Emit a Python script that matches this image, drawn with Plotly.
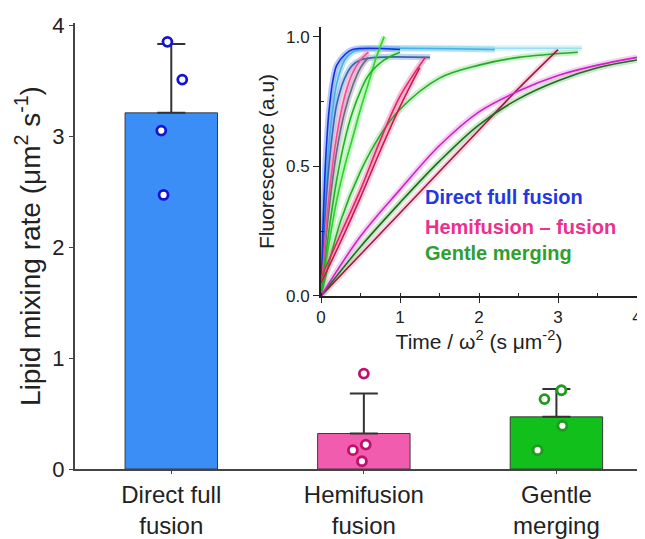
import plotly.graph_objects as go

# ---------------- main bar chart data ----------------
categories = ["Direct full<br>fusion", "Hemifusion<br>fusion", "Gentle<br>merging"]
bar_means = [3.21, 0.32, 0.47]
bar_err_plus = [0.62, 0.36, 0.25]
bar_colors = ["#3a8ef5", "#f25cae", "#11c01b"]
dot_colors = ["#1515d0", "#c0106e", "#1f9a1f"]

pts_direct = [3.85, 3.51, 3.05, 2.47]
pts_direct_jitter = [-0.02, 0.057, -0.052, -0.04]
pts_hemi = [0.86, 0.22, 0.17, 0.07]
pts_hemi_jitter = [0.0, 0.01, -0.057, -0.01]
pts_gentle = [0.71, 0.63, 0.39, 0.17]
pts_gentle_jitter = [0.026, -0.062, 0.031, -0.098]

# ---------------- inset curves ----------------
blue_fast_x = [0, 0.025, 0.05, 0.075, 0.1, 0.15, 0.2, 0.3, 0.4, 1.0]
blue_fast_y = [0, 0.27, 0.47, 0.61, 0.71, 0.83, 0.89, 0.93, 0.95, 0.95]
steel_x = [0, 0.05, 0.1, 0.15, 0.2, 0.3, 0.4, 0.5, 0.7, 1.38]
steel_y = [0, 0.30, 0.50, 0.64, 0.74, 0.84, 0.89, 0.91, 0.92, 0.92]
cyan_x = [0, 0.05, 0.1, 0.2, 0.3, 0.4, 0.5, 2.2]
cyan_y = [0, 0.35, 0.58, 0.82, 0.91, 0.94, 0.95, 0.95]
pale_x = [0.5, 1.0, 2.0, 3.3]
pale_y = [0.955, 0.955, 0.955, 0.955]
pink_fast_x = [0, 0.1, 0.2, 0.3, 0.4, 0.5, 0.6]
pink_fast_y = [0, 0.38, 0.62, 0.77, 0.86, 0.91, 0.94]
gray_fast_x = [0, 0.1, 0.2, 0.3, 0.4, 0.5, 0.6]
gray_fast_y = [0, 0.33, 0.56, 0.71, 0.81, 0.88, 0.92]
green_fast_x = [0, 0.1, 0.2, 0.3, 0.4, 0.5, 0.6, 0.7, 0.8]
green_fast_y = [0, 0.20, 0.37, 0.50, 0.61, 0.72, 0.82, 0.92, 1.0]
green_fit_x = [0, 0.1, 0.2, 0.3, 0.4, 0.5, 0.6, 0.8, 1.0]
green_fit_y = [0, 0.25, 0.45, 0.60, 0.71, 0.79, 0.85, 0.91, 0.94]
red_mid_x = [0, 0.25, 0.5, 0.75, 1.0, 1.32]
red_mid_y = [0.07, 0.24, 0.41, 0.60, 0.77, 0.92]
red_mid2_x = [0, 0.25, 0.5, 0.75, 1.0, 1.25]
red_mid2_y = [0.05, 0.21, 0.38, 0.56, 0.73, 0.88]
green_mid_x = [0, 0.25, 0.5, 0.75, 1.0, 1.5, 2.0, 2.5, 3.25]
green_mid_y = [0, 0.29, 0.48, 0.62, 0.72, 0.84, 0.89, 0.92, 0.94]
magenta_slow_x = [0, 0.5, 1, 1.5, 2, 2.5, 3, 3.5, 4]
magenta_slow_y = [0, 0.23, 0.41, 0.58, 0.71, 0.79, 0.85, 0.89, 0.92]
dkgreen_slow_x = [0, 0.5, 1, 1.5, 2, 2.5, 3, 3.5, 4]
dkgreen_slow_y = [0, 0.19, 0.36, 0.52, 0.66, 0.76, 0.83, 0.88, 0.91]
dkred_slow_x = [0, 0.5, 1, 1.5, 2, 2.5, 3]
dkred_slow_y = [0, 0.16, 0.32, 0.48, 0.64, 0.80, 0.95]

legend_labels = ["Direct full fusion", "Hemifusion \u2013 fusion", "Gentle merging"]
legend_colors = ["#2438e0", "#ee2f8e", "#2fa02f"]
legend_y = [0.382, 0.266, 0.166]

FONT = "Arial, 'Liberation Sans', sans-serif"

fig = go.Figure()

# bars
xs = list(range(len(categories)))
fig.add_trace(go.Bar(
    x=xs, y=bar_means, width=0.48,
    marker=dict(color=bar_colors, line=dict(color="#3a3a3a", width=1)),
    error_y=dict(type="data", symmetric=False, array=bar_err_plus,
                 arrayminus=[0] * len(bar_means), color="#333333",
                 thickness=2, width=14),
    showlegend=False, xaxis="x", yaxis="y"))

for i, (vals, jit) in enumerate([(pts_direct, pts_direct_jitter),
                                 (pts_hemi, pts_hemi_jitter),
                                 (pts_gentle, pts_gentle_jitter)]):
    fig.add_trace(go.Scatter(
        x=[i + j for j in jit], y=vals, mode="markers",
        marker=dict(symbol="circle", size=9, color="white",
                    line=dict(color=dot_colors[i], width=2.8)),
        showlegend=False, xaxis="x", yaxis="y"))

# inset: translucent "data" bands then fit lines
curves = [
    (pale_x, pale_y, "#b8ecf8", "#9adcf0"),
    (cyan_x, cyan_y, "#7fd0f0", "#4aaee8"),
    (steel_x, steel_y, "#8fb0e0", "#3b64b8"),
    (blue_fast_x, blue_fast_y, "#7f9cf8", "#1030e0"),
    (gray_fast_x, gray_fast_y, "#b0b0c8", "#6a6a80"),
    (pink_fast_x, pink_fast_y, "#f8a0c8", "#f0508f"),
    (green_fast_x, green_fast_y, "#90f090", "#30d030"),
    (green_fit_x, green_fit_y, "#a8f0a8", "#20b020"),
    (green_mid_x, green_mid_y, "#a0e8a0", "#2aa82a"),
    (red_mid2_x, red_mid2_y, "#f8a8c0", "#c81850"),
    (red_mid_x, red_mid_y, "#f590b8", "#e8206a"),
    (dkred_slow_x, dkred_slow_y, "#f4b0c8", "#9a1a40"),
    (dkgreen_slow_x, dkgreen_slow_y, "#a0d8a0", "#1f6a1f"),
    (magenta_slow_x, magenta_slow_y, "#f0a8e8", "#d020c8"),
]
for cx, cy, band, line in curves:
    fig.add_trace(go.Scatter(x=cx, y=cy, mode="lines",
                             line=dict(color=band, width=6, shape="spline"),
                             opacity=0.55, showlegend=False,
                             xaxis="x2", yaxis="y2", hoverinfo="skip"))
for cx, cy, band, line in curves:
    fig.add_trace(go.Scatter(x=cx, y=cy, mode="lines",
                             line=dict(color=line, width=1.6, shape="spline"),
                             showlegend=False, xaxis="x2", yaxis="y2"))

for lab, col, ly in zip(legend_labels, legend_colors, legend_y):
    fig.add_annotation(x=1.29, y=ly, xref="x2", yref="y2", text="<b>%s</b>" % lab,
                       showarrow=False, xanchor="left", yanchor="middle",
                       font=dict(family=FONT, size=20, color=col))

# the page body adds an 8 px offset, so margins are shifted by 8 px
fig.update_layout(
    template="none",
    width=645, height=539,
    margin=dict(l=67, r=8, t=15, b=78, autoexpand=False),
    paper_bgcolor="white", plot_bgcolor="white",
    font=dict(family=FONT, color="#222222"),
    bargap=0.5,
    xaxis=dict(domain=[0, 1], range=[-0.5, 2.46], tickvals=xs, ticktext=categories,
               automargin=False,
               showline=True, linecolor="#444444", linewidth=2,
               ticks="outside", ticklen=3, tickcolor="#444444",
               tickfont=dict(size=24, color="#222222"), showgrid=False, zeroline=False),
    yaxis=dict(domain=[0, 1], range=[0, 4.02], dtick=1, automargin=False,
               showline=True, linecolor="#444444", linewidth=2,
               ticks="outside", ticklen=4, tickcolor="#444444",
               tickfont=dict(size=22, color="#222222"), showgrid=False, zeroline=False,
               title=dict(text="Lipid mixing rate (\u03bcm<sup>2</sup> s<sup>-1</sup>)",
                          font=dict(size=28, color="#222222"), standoff=4)),
    xaxis2=dict(domain=[0.4316, 0.986], anchor="y2", range=[0, 4], dtick=1,
                automargin=False,
                showline=True, linecolor="#222222", linewidth=2,
                ticks="outside", ticklen=5, tickcolor="#222222",
                minor=dict(dtick=0.5, ticks="inside", ticklen=3, tickcolor="#222222"),
                tickfont=dict(size=17, color="#222222"), showgrid=False, zeroline=False,
                title=dict(text="Time / \u03c9<sup>2</sup> (s \u03bcm<sup>-2</sup>)",
                           font=dict(size=21, color="#222222"), standoff=2)),
    yaxis2=dict(domain=[0.388, 0.991], anchor="x2", range=[0, 1.037],
                automargin=False,
                tickvals=[0, 0.5, 1.0], ticktext=["0.0", "0.5", "1.0"],
                showline=True, linecolor="#222222", linewidth=2,
                ticks="outside", ticklen=6, tickcolor="#222222",
                minor=dict(tickvals=[0.25, 0.75], ticks="inside", ticklen=3, tickcolor="#222222"),
                tickfont=dict(size=17, color="#222222"), showgrid=False, zeroline=False,
                title=dict(text="Fluorescence (a.u)", font=dict(size=21, color="#222222"),
                           standoff=6)),
)

fig.write_html("out.html")
